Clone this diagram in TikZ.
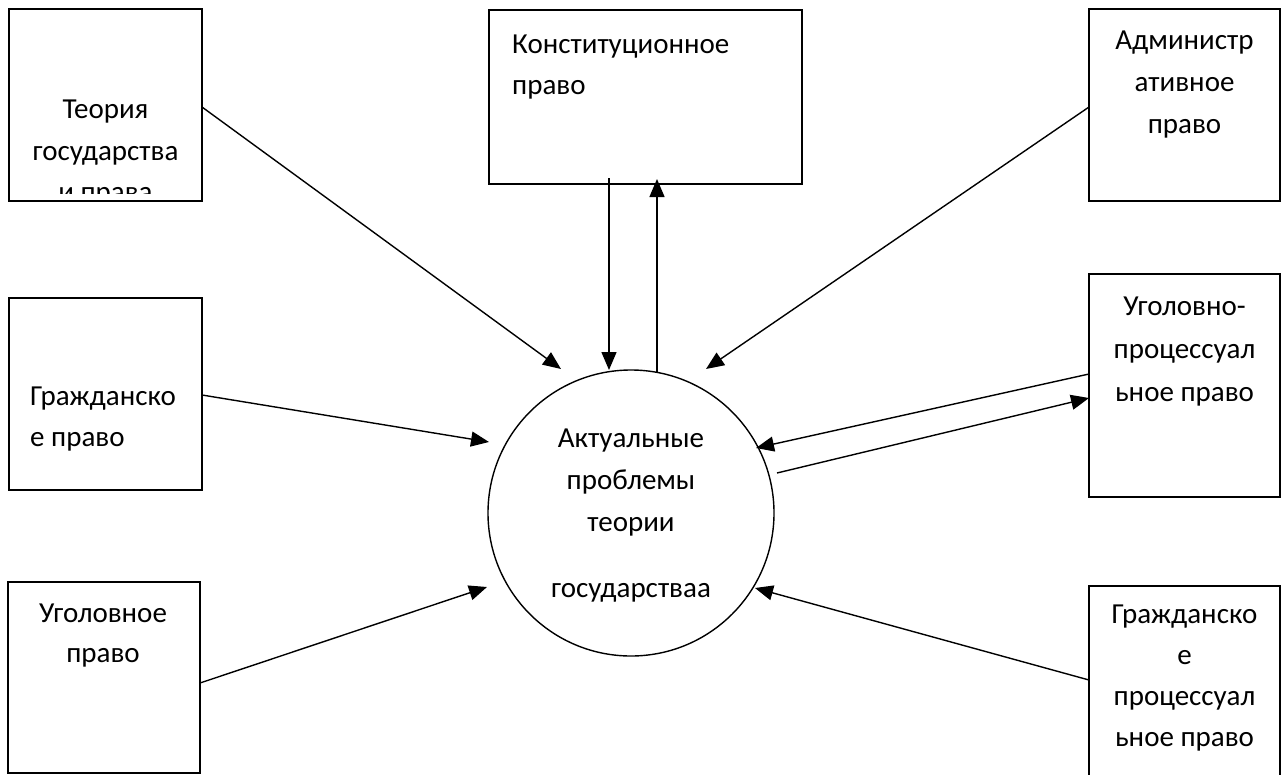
\documentclass[tikz,border=0pt]{standalone}
\usepackage{fontspec}
\setmainfont{Carlito}
\usetikzlibrary{arrows.meta}
\begin{document}
\begin{tikzpicture}[x=1pt,y=-1pt,
  box/.style={draw, line width=1.6pt, rectangle, inner sep=0pt},
  lbl/.style={anchor=base, inner sep=0pt, font=\fontsize{29}{35}\selectfont},
  lbll/.style={anchor=base west, inner sep=0pt, font=\fontsize{29}{35}\selectfont},
  arr/.style={line width=1.4pt, -{Triangle[length=18pt,width=15pt]}}]
\useasboundingbox (0,0) rectangle (1282,774);

% boxes
\node[box, minimum width=193pt, minimum height=192pt] (teo) at (105.5,105) {};
\node[box, minimum width=313pt, minimum height=174pt] (konst) at (645.5,97) {};
\node[box, minimum width=191pt, minimum height=192pt] (admin) at (1184.5,105) {};
\node[box, minimum width=193pt, minimum height=192pt] (grazh) at (105.5,394) {};
\node[box, minimum width=191pt, minimum height=223pt] (ugproc) at (1184.5,385.5) {};
\node[box, minimum width=192pt, minimum height=191pt] (ugol) at (104,677.5) {};
\node[box, minimum width=191pt, minimum height=192pt] (gp) at (1184.5,682) {};
\node[draw, circle, line width=1.4pt, minimum size=286pt, inner sep=0pt] (circ) at (631,513) {};

% texts
\begin{scope}
\clip (9,9) rectangle (202,193);
\node[lbl] (teo1) at (105.5,118) {Теория};
\node[lbl] (teo2) at (105.5,160) {государства};
\node[lbl] (teo3) at (105.5,201) {и права};
\end{scope}
\node[lbll] (konst1) at (512,53) {Конституционное};
\node[lbll] (konst2) at (512,94) {право};
\node[lbl] (admin1) at (1184.5,49) {Администр};
\node[lbl] (admin2) at (1184.5,91) {ативное};
\node[lbl] (admin3) at (1184.5,133) {право};
\node[lbll] (grazh1) at (30,405) {Гражданско};
\node[lbll] (grazh2) at (30,446) {е право};
\node[lbl] (ugproc1) at (1184.5,315) {Уголовно-};
\node[lbl] (ugproc2) at (1184.5,358) {процессуал};
\node[lbl] (ugproc3) at (1184.5,401) {ьное право};
\node[lbl] (ugol1) at (103,622) {Уголовное};
\node[lbl] (ugol2) at (103,662) {право};
\node[lbl] (gp1) at (1184.5,623) {Гражданско};
\node[lbl] (gp2) at (1184.5,664) {е};
\node[lbl] (gp3) at (1184.5,705) {процессуал};
\node[lbl] (gp4) at (1184.5,746) {ьное право};
\node[lbl] (c1) at (631,447) {Актуальные};
\node[lbl] (c2) at (631,489) {проблемы};
\node[lbl] (c3) at (631,531) {теории};
\node[lbl] (c4) at (631,597) {государстваа};

% connector end points
\coordinate (teoS) at (202,107);   \coordinate (teoT) at (561,369);
\coordinate (konD1) at (609,178);  \coordinate (konD2) at (609,370);
\coordinate (konU1) at (657,372);  \coordinate (konU2) at (657,179);
\coordinate (admS) at (1089,107);  \coordinate (admT) at (706,369);
\coordinate (grS) at (202,395);    \coordinate (grT) at (489,442);
\coordinate (upS1) at (1089,374);  \coordinate (upT1) at (756,448);
\coordinate (upS2) at (777,473);   \coordinate (upT2) at (1089,398);
\coordinate (ugS) at (200,683);    \coordinate (ugT) at (487,587);
\coordinate (gpS) at (1089,680);   \coordinate (gpT) at (755,588);

\draw[arr] (teoS) -- (teoT);
\draw[arr] (konD1) -- (konD2);
\draw[arr] (konU1) -- (konU2);
\draw[arr] (admS) -- (admT);
\draw[arr] (grS) -- (grT);
\draw[arr] (upS1) -- (upT1);
\draw[arr] (upS2) -- (upT2);
\draw[arr] (ugS) -- (ugT);
\draw[arr] (gpS) -- (gpT);
\end{tikzpicture}
\end{document}
